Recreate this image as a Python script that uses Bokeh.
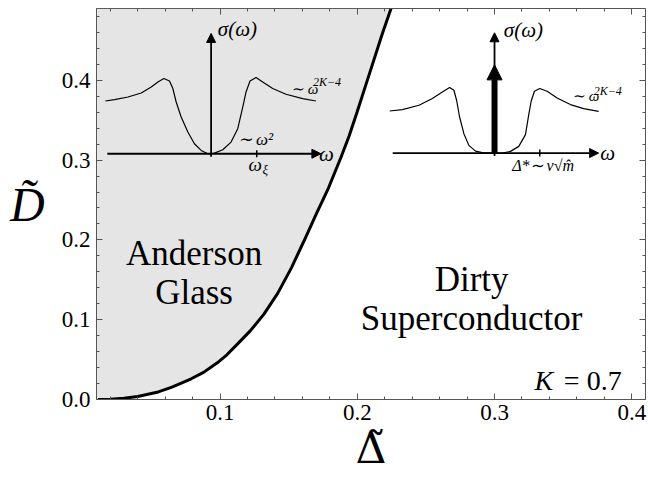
import numpy as np
from bokeh.plotting import figure
from bokeh.models import (Range1d, FixedTicker, PrintfTickFormatter, LinearAxis,
                          Arrow, NormalHead)
from bokeh.core.properties import value
from bokeh.embed import file_html
from bokeh.resources import INLINE

# ---------------- data ----------------
# phase boundary D~(Delta~)
boundary_delta = [0.011, 0.020, 0.030, 0.040, 0.055, 0.065, 0.079, 0.088, 0.098, 0.105,
                  0.113, 0.122, 0.132, 0.142, 0.152, 0.161, 0.170, 0.179, 0.188, 0.194,
                  0.200, 0.206, 0.212, 0.218, 0.2246]
boundary_D = [0.0, 0.0004, 0.0016, 0.0038, 0.0095, 0.0155, 0.0260, 0.0340, 0.0460, 0.0560,
              0.0700, 0.0860, 0.1070, 0.1330, 0.1650, 0.1980, 0.2320, 0.2650, 0.3030, 0.3300,
              0.3610, 0.3930, 0.4250, 0.4570, 0.4900]

x_major = [0.1, 0.2, 0.3, 0.4]
x_minor = [0.02, 0.04, 0.06, 0.08, 0.12, 0.14, 0.16, 0.18, 0.22, 0.24, 0.26, 0.28,
           0.32, 0.34, 0.36, 0.38]
y_major = [0.0, 0.1, 0.2, 0.3, 0.4]
y_minor = [0.02, 0.04, 0.06, 0.08, 0.12, 0.14, 0.16, 0.18, 0.22, 0.24, 0.26, 0.28,
           0.32, 0.34, 0.36, 0.38, 0.42, 0.44, 0.46, 0.48]

# inset sketches: sigma(omega), in inset units (omega offset, sigma height)
glass_omega = [-106, -96.7, -83.3, -70, -60, -53.3, -47.3, -41.7, -38.3, -35, -30, -23.3,
               -16.7, -10, -3.3, 0, 3.3, 11.7, 20, 26.7, 31.7, 35, 39, 45, 51.7, 61.7, 75,
               91.7, 105]
glass_sigma = [52.6, 54, 56.6, 60.6, 66.6, 71.6, 75, 72.6, 65, 51.6, 36.6, 21.6,
               10, 3.3, 0, 0, 0.6, 4, 11.6, 25, 46.6, 61.6, 72.6, 76, 71.6, 65, 59.3,
               55, 52.6]
sc_omega = [-105, -92.3, -75.7, -62.3, -52.3, -45, -40.7, -38, -35, -30.7, -25.7, -19,
            -12.3, 0, 7.7, 16, 24.3, 31, 34.3, 36.7, 40, 45.3, 52.7, 62.7, 76, 89.3, 104.3]
sc_sigma = [42, 43.4, 47.7, 54.4, 61, 65.4, 62.7, 52.7, 36, 19.4, 7.7, 2,
            0.4, 0, 0, 1.7, 6.7, 18.4, 38.4, 51.7, 61.7, 64.4, 61.7, 55, 48.4, 44.4, 41.7]
sc_delta_peak = 88       # height of the delta-function arrow
glass_tick = 45.7        # omega_xi
sc_tick = 45.3           # Delta*

# ---------------- figure ----------------
FONT_NAME = "Liberation Serif"
FONT = value(FONT_NAME)
AX = "#555555"
X0, X1, Y0, Y1 = 0.01, 0.41, 0.0, 0.49

p = figure(width=648, height=482, x_range=Range1d(X0, X1), y_range=Range1d(Y0, Y1),
           output_backend="svg", toolbar_location=None,
           min_border_left=96, min_border_right=3, min_border_top=8, min_border_bottom=83)
p.xgrid.visible = False
p.ygrid.visible = False
p.outline_line_color = AX
p.background_fill_color = "white"
p.border_fill_color = "white"

bottom = p.below[0]
left = p.left[0]

for ax, maj, mnr in ((bottom, x_major, x_minor), (left, y_major, y_minor)):
    ax.ticker = FixedTicker(ticks=maj, minor_ticks=mnr)
    ax.axis_line_color = AX
    ax.major_tick_line_color = AX
    ax.minor_tick_line_color = AX
    ax.major_tick_in = 6
    ax.major_tick_out = 0
    ax.minor_tick_in = 3
    ax.minor_tick_out = 0
    ax.formatter = PrintfTickFormatter(format="%.1f")
    ax.major_label_text_font = FONT_NAME
    ax.major_label_text_font_size = "23px"
    ax.major_label_text_color = "black"

bottom.major_label_standoff = 5
left.major_label_standoff = 6

bottom.axis_label = "\u0394\u0303"
bottom.axis_label_text_font = "DejaVu Serif"
bottom.axis_label_text_font_size = "43px"
bottom.axis_label_text_font_style = "normal"
bottom.axis_label_text_color = "black"
bottom.axis_label_standoff = 0

left.axis_label = "D\u0303"
left.axis_label_text_font = FONT_NAME
left.axis_label_text_font_size = "48px"
left.axis_label_text_font_style = "italic"
left.axis_label_text_color = "black"
left.axis_label_standoff = 14
left.axis_label_orientation = "horizontal"

# frame ticks on the top and right edges (no labels)
for loc, fixed, positions, length in (("above", Y1, x_minor, 3), ("above", Y1, x_major, 6),
                                      ("right", X1, y_minor, 3), ("right", X1, y_major, 6)):
    fa = LinearAxis(ticker=FixedTicker(ticks=[], minor_ticks=positions),
                    fixed_location=fixed, axis_line_color=AX,
                    minor_tick_line_color=AX, minor_tick_in=length, minor_tick_out=0,
                    major_tick_in=0, major_tick_out=0,
                    major_label_standoff=0, axis_label_standoff=0)
    p.add_layout(fa, loc)

# ---------------- phase regions ----------------
p.harea(x1=[X0] * len(boundary_D), x2=boundary_delta, y=boundary_D,
        fill_color="#e5e5e5")
p.line(boundary_delta, boundary_D, line_color="black", line_width=3)

# ---------------- inset sketches ----------------
SX = 0.1 / 137.5
SY = 0.1 / 79.6
glass_origin = (0.0935, 0.308)
sc_origin = (0.300, 0.3088)


def tx(o, w):
    return o[0] + w * SX


def ty(o, s):
    return o[1] + s * SY


def arrow(x0, y0, x1, y1, lw, size):
    p.add_layout(Arrow(end=NormalHead(size=size, fill_color="black", line_color="black",
                                      line_width=1),
                       x_start=x0, y_start=y0, x_end=x1, y_end=y1,
                       line_width=lw, line_color="black"))


def label(o, w, s, txt, size, style="normal", align="left", baseline="middle"):
    p.text(x=[tx(o, w)], y=[ty(o, s)], text=[txt], text_font=FONT,
           text_font_size=size, text_font_style=style, text_align=align,
           text_baseline=baseline, text_color="black")


for o, om, sg, lo, hi, tick in ((glass_origin, glass_omega, glass_sigma, -104, 110, glass_tick),
                                (sc_origin, sc_omega, sc_sigma, -102, 104.3, sc_tick)):
    p.line([tx(o, w) for w in om], [ty(o, s) for s in sg], line_color="black", line_width=1.2)
    arrow(tx(o, lo), ty(o, 0), tx(o, hi), ty(o, 0), 1.8, 9)
    arrow(tx(o, 0), ty(o, -3), tx(o, 0), ty(o, 120), 1.8, 9)
    p.segment(x0=[tx(o, tick)], y0=[ty(o, -3.5)], x1=[tx(o, tick)], y1=[ty(o, 3.5)],
              line_color="black", line_width=1.5)

# delta-function peak of the superconductor
arrow(tx(sc_origin, 0), ty(sc_origin, 0), tx(sc_origin, 0), ty(sc_origin, sc_delta_peak), 6, 15)

# inset texts
label(glass_origin, 6.7, 124.3, "\u03c3(\u03c9)", "21px", "italic")
label(glass_origin, 80, 65, "\u223c \u03c9", "15px", "italic")
label(glass_origin, 102, 72, "2K\u22124", "12px", "italic")
label(glass_origin, 26.7, 14.3, "\u223c \u03c9\u00b2", "17px", "italic")
label(glass_origin, 37.5, -10.5, "\u03c9", "19px", "italic")
label(glass_origin, 51.5, -15.5, "\u03be", "13px", "italic")
label(glass_origin, 108, 0, "\u03c9", "21px", "italic")

label(sc_origin, 9.3, 122.7, "\u03c3(\u03c9)", "21px", "italic")
label(sc_origin, 77.7, 56.7, "\u223c \u03c9", "15px", "italic")
label(sc_origin, 99.3, 61.7, "2K\u22124", "12px", "italic")
label(sc_origin, 106, 0, "\u03c9", "21px", "italic")
label(sc_origin, 17.7, -12.3, "\u0394*\u223c v\u221am\u0302", "16px", "italic")

# region labels
p.text(x=[0.0811, 0.0811, 0.2833, 0.2833], y=[0.1825, 0.1345, 0.150, 0.1011],
       text=["Anderson", "Glass", "Dirty", "Superconductor"], text_font=FONT,
       text_font_size="35px", text_align="center", text_baseline="alphabetic",
       text_color="black")
p.text(x=[0.3292], y=[0.0239], text=["K"], text_font=FONT, text_font_size="28px",
       text_font_style="italic", text_align="left", text_baseline="alphabetic",
       text_color="black")
p.text(x=[0.3505], y=[0.0239], text=["= 0.7"], text_font=FONT, text_font_size="28px",
       text_align="left", text_baseline="alphabetic", text_color="black")

open("out.html", "w").write(file_html(p, INLINE))
